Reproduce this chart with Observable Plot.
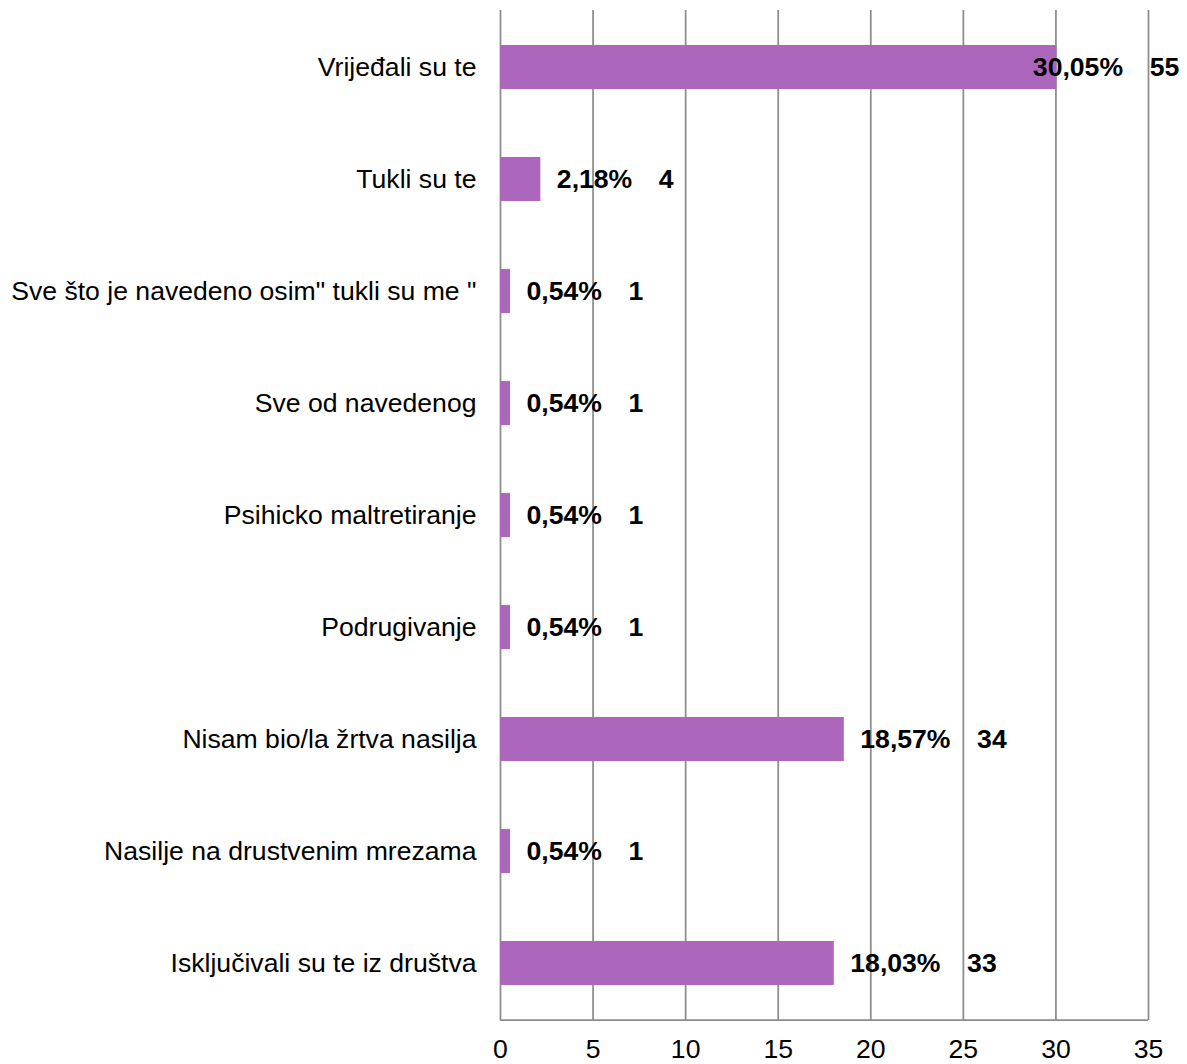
<!DOCTYPE html>
<html>
<head>
<meta charset="utf-8">
<script src="https://cdn.jsdelivr.net/npm/d3@7"></script>
<script src="https://cdn.jsdelivr.net/npm/@observablehq/plot@0.6"></script>
<style>
  html, body { margin: 0; padding: 0; background: #fff; }
  #chart svg { display: block; }
</style>
</head>
<body>
<div id="chart"></div>
<script>
const categories = [
  "Vrijeđali su te",
  "Tukli su te",
  "Sve što je navedeno osim\" tukli su me \"",
  "Sve od navedenog",
  "Psihicko maltretiranje",
  "Podrugivanje",
  "Nisam bio/la žrtva nasilja",
  "Nasilje na drustvenim mrezama",
  "Isključivali su te iz društva"
];
const percents = [30.05, 2.18, 0.54, 0.54, 0.54, 0.54, 18.57, 0.54, 18.03];
const counts = [55, 4, 1, 1, 1, 1, 34, 1, 33];
const xTicks = [0, 5, 10, 15, 20, 25, 30, 35];

const data = categories.map((c, i) => ({
  cat: c,
  pct: percents[i],
  n: counts[i],
  label: percents[i].toFixed(2).replace(".", ",") + "%\u2002\u2002" + counts[i]
}));

const FONT = "'Liberation Sans', Arial, Helvetica, sans-serif";
const GRID = "#8c8c8c";

const baseline = (index, scales, values, dims) => {
  const ns = "http://www.w3.org/2000/svg";
  const l = document.createElementNS(ns, "line");
  const y = dims.height - dims.marginBottom;
  l.setAttribute("x1", scales.x(xTicks[0]));
  l.setAttribute("x2", scales.x(xTicks[xTicks.length - 1]));
  l.setAttribute("y1", y);
  l.setAttribute("y2", y);
  l.setAttribute("stroke", GRID);
  l.setAttribute("stroke-width", 1.75);
  return l;
};

const chart = Plot.plot({
  width: 1187,
  height: 1064,
  marginLeft: 500,
  marginRight: 39,
  marginTop: 10,
  marginBottom: 44,
  style: { fontFamily: FONT, fontSize: "26.6px", color: "#000", background: "#fff" },
  x: { domain: [0, 35], ticks: xTicks, label: null },
  y: { domain: categories, paddingInner: 0.61, paddingOuter: 0.305, align: 0.5, label: null },
  marks: [
    Plot.gridX(xTicks, { stroke: GRID, strokeOpacity: 1, strokeWidth: 1.75 }),
    baseline,
    Plot.barX(data, { y: "cat", x: "pct", fill: "#ac66bc" }),
    Plot.text(data.filter(d => d.pct < 28), {
      y: "cat", x: "pct", text: "label", textAnchor: "start", dx: 16,
      fontWeight: "bold", fontSize: 26.6, fill: "#000"
    }),
    Plot.text(data.filter(d => d.pct >= 28), {
      y: "cat", x: "pct", text: "label", textAnchor: "start", dx: -24,
      fontWeight: "bold", fontSize: 26.6, fill: "#000"
    }),
    Plot.axisX(xTicks, { tickSize: 0, tickPadding: 19, fontSize: 26.6, fill: "#000", label: null }),
    Plot.axisY({ tickSize: 0, tickPadding: 24, fontSize: 26.6, fill: "#000", label: null })
  ]
});

document.getElementById("chart").appendChild(chart);
</script>
</body>
</html>
